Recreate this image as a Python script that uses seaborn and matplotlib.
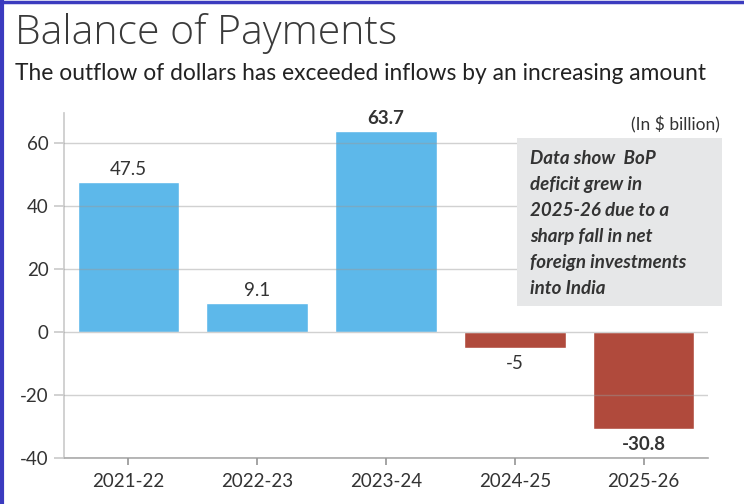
import matplotlib
matplotlib.use("Agg")
import matplotlib.pyplot as plt
import matplotlib.patches as mpatches
import matplotlib.lines as mlines
import pandas as pd
import seaborn as sns

years = ["2021-22", "2022-23", "2023-24", "2024-25", "2025-26"]
balance = [47.5, 9.1, 63.7, -5, -30.8]
bold_labels = [False, False, True, False, True]
y_ticks = [-40, -20, 0, 20, 40, 60]

BLUE = "#5db8ea"
RED = "#b04a3c"
TEXT = "#333333"

sns.set_theme(style="white")
plt.rcParams["font.family"] = ["Lato", "DejaVu Sans"]

df = pd.DataFrame({"year": years, "value": balance})
palette = [BLUE if v >= 0 else RED for v in balance]

fig = plt.figure(figsize=(7.44, 5.04), dpi=100)
ax = fig.add_axes([0.086, 0.0913, 0.8656, 0.685])

sns.barplot(data=df, x="year", y="value", hue="year", palette=palette,
            legend=False, width=0.79, saturation=1, ax=ax, zorder=1)

ax.set_ylim(-40, 69.5)
ax.set_xlim(-0.5, 4.5)
ax.set_yticks(y_ticks)
ax.set_yticklabels([str(t) for t in y_ticks])
ax.set_xlabel("")
ax.set_ylabel("")
ax.yaxis.grid(True, color="#999999", linewidth=1, alpha=0.45, zorder=3)
ax.set_axisbelow(False)
for s in ["top", "right"]:
    ax.spines[s].set_visible(False)
ax.spines["left"].set_color("#cccccc")
ax.spines["bottom"].set_color("#aaaaaa")
ax.spines["bottom"].set_linewidth(1.2)
ax.tick_params(axis="x", length=5, color="#999999", labelsize=13.5, labelcolor=TEXT, pad=6)
ax.tick_params(axis="y", length=7, color="#cccccc", labelsize=13.5, labelcolor=TEXT, pad=4, left=True)
ax.tick_params(axis="x", bottom=True)

for i, (v, b) in enumerate(zip(balance, bold_labels)):
    if v >= 0:
        ax.annotate(str(v), (i, v), xytext=(0, 3), textcoords="offset points",
                    ha="center", va="bottom", fontsize=13.5, color=TEXT,
                    fontweight="bold" if b else "normal")
    else:
        ax.annotate(str(v).replace(".0", ""), (i, v), xytext=(0, -5), textcoords="offset points",
                    ha="center", va="top", fontsize=13.5, color=TEXT,
                    fontweight="bold" if b else "normal")

# note box
fig.patches.append(mpatches.Rectangle((517 / 744, 1 - 306 / 504), 205 / 744, 168 / 504,
                                      transform=fig.transFigure, facecolor="#e6e7e8",
                                      edgecolor="none", zorder=2))
fig.text(530 / 744, 1 - 150 / 504,
         "Data show  BoP\ndeficit grew in\n2025-26 due to a\nsharp fall in net\nforeign investments\ninto India",
         ha="left", va="top", fontsize=13.5, style="italic", fontweight="bold",
         color="#333333", linespacing=1.65, zorder=3)
fig.text(720 / 744, 1 - 125 / 504, "(In $ billion)", ha="right", va="center",
         fontsize=12.5, color=TEXT)

fig.text(15 / 744, 1 - 44 / 504, "Balance of Payments", ha="left", va="baseline",
         fontsize=29.5, fontweight=300, family=["Open Sans", "DejaVu Sans"], color="#3a3a3a")
fig.text(15 / 744, 1 - 80 / 504, "The outflow of dollars has exceeded inflows by an increasing amount",
         ha="left", va="baseline", fontsize=16.4, color="#222222")

# blue frame on left and top
fig.lines.append(mlines.Line2D([2 / 744, 2 / 744], [0, 1], transform=fig.transFigure,
                               color="#3b3bbf", linewidth=3))
fig.lines.append(mlines.Line2D([0, 1], [1 - 1.5 / 504, 1 - 1.5 / 504], transform=fig.transFigure,
                               color="#3b3bbf", linewidth=2.5))

fig.savefig("out.png", dpi=100)
